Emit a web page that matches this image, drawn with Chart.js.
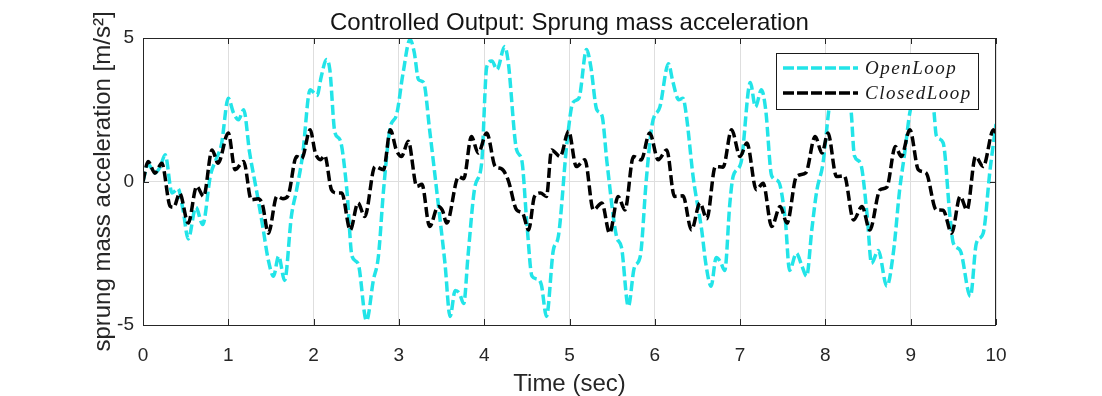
<!DOCTYPE html>
<html lang="en">
  <head>
    <meta charset="UTF-8" />
    <title>Controlled Output: Sprung mass acceleration</title>
    <script src="https://cdn.jsdelivr.net/npm/chart.js"></script>
    <style>
      html,
      body {
        margin: 0;
        padding: 0;
        background: #ffffff;
      }
      #wrap {
        width: 1102px;
        height: 396px;
        position: relative;
      }
      canvas#accChart {
        display: block;
      }
    </style>
  </head>
  <body>
    <div id="wrap"><canvas id="accChart"></canvas></div>
    <script>
      // values (time in s, acceleration in m/s^2)
      const openTime = [
        0.0, 0.06, 0.14, 0.2, 0.26, 0.34, 0.41, 0.47, 0.53, 0.62, 0.7, 0.79,
        0.86, 0.92, 1.0, 1.06, 1.12, 1.18, 1.25, 1.33, 1.4, 1.47, 1.53, 1.59,
        1.66, 1.74, 1.8, 1.87, 1.96, 2.04, 2.09, 2.15, 2.19, 2.25, 2.31, 2.39,
        2.45, 2.52, 2.62, 2.7, 2.76, 2.82, 2.9, 2.97, 3.05, 3.13, 3.18, 3.23,
        3.29, 3.36, 3.46, 3.54, 3.6, 3.66, 3.71, 3.76, 3.81, 3.89, 3.97, 4.03,
        4.09, 4.15, 4.24, 4.28, 4.38, 4.44, 4.5, 4.56, 4.62, 4.67, 4.73, 4.81,
        4.87, 4.97, 5.04, 5.11, 5.2, 5.25, 5.32, 5.38, 5.44, 5.55, 5.61, 5.69,
        5.76, 5.83, 5.9, 5.97, 6.06, 6.16, 6.21, 6.28, 6.33, 6.37, 6.45, 6.55,
        6.6, 6.66, 6.72, 6.77, 6.82, 6.88, 6.92, 7.01, 7.12, 7.18, 7.25, 7.3,
        7.37, 7.45, 7.53, 7.58, 7.66, 7.72, 7.78, 7.84, 7.9, 7.97, 8.05, 8.1,
        8.16, 8.24, 8.3, 8.34, 8.41, 8.49, 8.54, 8.62, 8.72, 8.8, 8.87, 8.93,
        8.99, 9.05, 9.12, 9.2, 9.27, 9.3, 9.38, 9.46, 9.5, 9.58, 9.7, 9.77,
        9.85, 9.93, 10.0,
      ];
      const openLoop = [
        0.0, 0.6, 0.3, 0.5, 0.93, -0.4, -0.25, -1.0, -2.0, -0.9, -1.5, 0.2,
        0.8, 1.3, 2.9, 2.4, 2.15, 2.5, 1.0, -0.3, -1.5, -2.75, -3.3, -2.6,
        -3.45, -1.2, -0.3, 0.9, 3.2, 3.0, 3.66, 4.25, 3.9, 1.7, 1.45, -0.3,
        -2.6, -2.85, -4.85, -3.45, -2.6, -0.3, 1.9, 2.3, 3.8, 4.95, 4.5, 3.55,
        3.45, 1.8, -0.75, -2.85, -4.7, -3.8, -3.9, -4.25, -2.6, -0.2, 0.64,
        4.0, 4.2, 3.9, 4.7, 4.2, 1.1, 0.75, -1.45, -3.3, -3.4, -3.6, -4.7,
        -2.4, -1.9, 1.35, 2.75, 2.9, 4.6, 4.0, 2.5, 2.3, 0.65, -1.9, -2.3,
        -4.35, -3.0, -2.6, 0.05, 2.0, 2.6, 4.1, 3.5, 2.85, 2.9, 2.3, 0.15,
        -1.7, -2.9, -3.65, -2.65, -2.8, -3.1, -0.75, 0.2, 0.65, 3.45, 2.6,
        3.2, 2.5, 0.2, 0.0, -1.35, -3.1, -2.5, -2.9, -3.3, -1.7, -0.3, 0.6,
        2.7, 3.3, 3.9, 3.3, 2.5, 0.9, 0.65, -1.2, -2.85, -2.4, -3.65, -2.4,
        -0.3, 1.0, 2.4, 3.0, 3.45, 3.2, 2.5, 1.6, 1.35, -1.2, -2.15, -2.4,
        -4.0, -2.15, -1.8, 0.4, 2.0,
      ];
      const closedTime = [
        0.0, 0.06, 0.14, 0.22, 0.32, 0.36, 0.43, 0.53, 0.63, 0.71, 0.81, 0.88,
        1.0, 1.08, 1.18, 1.27, 1.35, 1.4, 1.47, 1.57, 1.64, 1.7, 1.8, 1.86,
        1.96, 2.02, 2.08, 2.13, 2.21, 2.27, 2.33, 2.43, 2.52, 2.6, 2.72, 2.82,
        2.9, 2.97, 3.03, 3.11, 3.21, 3.27, 3.36, 3.46, 3.51, 3.56, 3.7, 3.76,
        3.85, 3.93, 4.03, 4.13, 4.2, 4.28, 4.38, 4.45, 4.52, 4.59, 4.66, 4.73,
        4.79, 4.89, 4.99, 5.08, 5.18, 5.28, 5.38, 5.47, 5.57, 5.65, 5.75, 5.84,
        5.94, 6.04, 6.14, 6.23, 6.33, 6.43, 6.53, 6.61, 6.71, 6.8, 6.9, 7.0,
        7.08, 7.19, 7.27, 7.37, 7.47, 7.55, 7.66, 7.77, 7.88, 7.96, 8.03, 8.13,
        8.22, 8.33, 8.43, 8.52, 8.64, 8.72, 8.82, 8.89, 8.99, 9.09, 9.18, 9.3,
        9.38, 9.48, 9.58, 9.66, 9.76, 9.85, 9.97, 10.0,
      ];
      const closedLoop = [
        0.0, 0.7, 0.29, 0.64, -0.87, -0.9, -0.41, -1.45, -0.17, -0.52, 1.1,
        0.64, 1.69, 0.41, 0.7, -0.64, -0.6, -0.8, -1.8, -0.52, -0.6, -0.5,
        0.87, 0.8, 1.8, 1.0, 0.76, 0.9, -0.29, -0.4, -0.4, -1.69, -0.75,
        -1.22, 0.52, 0.41, 1.8, 1.1, 0.87, 1.4, -0.17, -0.1, -1.57, -0.87,
        -1.0, -1.45, 0.17, 0.1, 1.57, 0.99, 1.69, 0.52, 0.45, 0.06, -0.99,
        -1.1, -1.69, -0.52, -0.4, -0.52, 1.1, 0.87, 1.75, 0.52, 0.76, -0.99,
        -0.75, -1.8, -0.52, -0.99, 0.87, 0.75, 1.69, 0.76, 1.1, -0.52, -0.5,
        -1.69, -0.75, -1.3, 0.52, 0.5, 1.8, 0.87, 1.34, -0.29, -0.06, -1.57,
        -0.87, -1.45, 0.17, 0.3, 1.57, 0.99, 1.69, 0.17, 0.2, -1.34, -0.87,
        -1.69, -0.29, -0.2, 1.22, 0.87, 1.8, 0.41, 0.3, -0.99, -1.0, -1.8,
        -0.52, -0.99, 0.87, 0.52, 1.8, 1.7,
      ];
      const xTicks = [0, 1, 2, 3, 4, 5, 6, 7, 8, 9, 10];
      const yTicks = [-5, 0, 5];
      const seriesNames = ["OpenLoop", "ClosedLoop"];
      const chartTitle = "Controlled Output: Sprung mass acceleration";

      const CYAN = "#22e4e8";
      const INK = "#262626";
      const SANS = '"Liberation Sans", Arial, Helvetica, sans-serif';

      const toPoints = (ts, vs) => ts.map((t, i) => ({ x: t, y: vs[i] }));

      // MATLAB-style box, inward ticks, title and legend
      const matlabFrame = {
        id: "matlabFrame",
        afterDatasetsDraw(chart) {
          const { ctx, chartArea: a, scales } = chart;
          const sx = scales.x;
          const sy = scales.y;
          ctx.save();
          ctx.strokeStyle = INK;
          ctx.lineWidth = 1;
          ctx.setLineDash([]);
          ctx.strokeRect(a.left + 0.5, a.top + 0.5, a.right - a.left - 1, a.bottom - a.top);
          ctx.beginPath();
          xTicks.forEach((v) => {
            const px = Math.round(sx.getPixelForValue(v)) + 0.5;
            ctx.moveTo(px, a.bottom);
            ctx.lineTo(px, a.bottom - 6);
            ctx.moveTo(px, a.top);
            ctx.lineTo(px, a.top + 6);
          });
          yTicks.forEach((v) => {
            const py = Math.round(sy.getPixelForValue(v)) + 0.5;
            ctx.moveTo(a.left, py);
            ctx.lineTo(a.left + 6, py);
            ctx.moveTo(a.right, py);
            ctx.lineTo(a.right - 6, py);
          });
          ctx.stroke();

          // title
          ctx.fillStyle = "#141414";
          ctx.font = "24px " + SANS;
          ctx.textAlign = "center";
          ctx.textBaseline = "alphabetic";
          ctx.fillText(chartTitle, (a.left + a.right) / 2, 30);

          // legend box
          const bw = 202;
          const bh = 56;
          const bx = a.right - 18 - bw;
          const by = a.top + 15;
          ctx.fillStyle = "#ffffff";
          ctx.fillRect(bx, by, bw, bh);
          ctx.strokeStyle = "#1a1a1a";
          ctx.strokeRect(bx + 0.5, by + 0.5, bw, bh);
          const rows = [
            { name: seriesNames[0], color: CYAN, y: by + 15 },
            { name: seriesNames[1], color: "#000000", y: by + 40 },
          ];
          rows.forEach((r) => {
            ctx.strokeStyle = r.color;
            ctx.lineWidth = 3.5;
            ctx.setLineDash([11, 3]);
            ctx.beginPath();
            ctx.moveTo(bx + 7, r.y);
            ctx.lineTo(bx + 82, r.y);
            ctx.stroke();
            ctx.setLineDash([]);
            ctx.fillStyle = "#1a1a1a";
            ctx.font = 'italic 19px "Liberation Serif", "DejaVu Serif", serif';
            ctx.textAlign = "left";
            ctx.textBaseline = "middle";
            if ("letterSpacing" in ctx) ctx.letterSpacing = "1.5px";
            ctx.fillText(r.name, bx + 89, r.y + 1);
            if ("letterSpacing" in ctx) ctx.letterSpacing = "0px";
          });
          ctx.restore();
        },
      };

      document.addEventListener("DOMContentLoaded", function () {
        const ctx = document.getElementById("accChart").getContext("2d");
        new Chart(ctx, {
          type: "line",
          data: {
            datasets: [
              {
                label: seriesNames[0],
                data: toPoints(openTime, openLoop),
                borderColor: CYAN,
                borderWidth: 3.5,
                borderDash: [10, 4],
                pointRadius: 0,
                cubicInterpolationMode: "monotone",
                fill: false,
                order: 2,
              },
              {
                label: seriesNames[1],
                data: toPoints(closedTime, closedLoop),
                borderColor: "#000000",
                borderWidth: 3.5,
                borderDash: [10, 4],
                pointRadius: 0,
                cubicInterpolationMode: "monotone",
                fill: false,
                order: 1,
              },
            ],
          },
          options: {
            responsive: true,
            maintainAspectRatio: false,
            devicePixelRatio: 1,
            animation: false,
            layout: { padding: { top: 38, right: 106, bottom: 0, left: 0 } },
            plugins: {
              legend: { display: false },
              title: { display: false },
              tooltip: { enabled: false },
            },
            scales: {
              x: {
                type: "linear",
                min: 0,
                max: 10,
                afterBuildTicks: (s) => {
                  s.ticks = xTicks.map((v) => ({ value: v }));
                },
                afterFit: (s) => {
                  s.height = 71;
                },
                grid: { color: "#dedede", drawTicks: false },
                border: { display: false },
                ticks: {
                  padding: 19,
                  color: INK,
                  font: { family: SANS, size: 19 },
                  maxRotation: 0,
                },
                title: {
                  display: true,
                  text: "Time (sec)",
                  color: INK,
                  font: { family: SANS, size: 24, lineHeight: 1 },
                  padding: { top: 0, bottom: 0 },
                },
              },
              y: {
                min: -5,
                max: 5,
                afterBuildTicks: (s) => {
                  s.ticks = yTicks.map((v) => ({ value: v }));
                },
                afterFit: (s) => {
                  s.width = 143;
                },
                grid: { color: "#dedede", drawTicks: false },
                border: { display: false },
                ticks: {
                  padding: 9,
                  color: INK,
                  font: { family: SANS, size: 19 },
                },
                title: {
                  display: true,
                  text: "sprung mass acceleration [m/s\u00B2]",
                  color: INK,
                  font: { family: SANS, size: 24, lineHeight: 1.2 },
                  padding: { top: 89, bottom: 0 },
                },
              },
            },
          },
          plugins: [matlabFrame],
        });
      });
    </script>
  </body>
</html>
